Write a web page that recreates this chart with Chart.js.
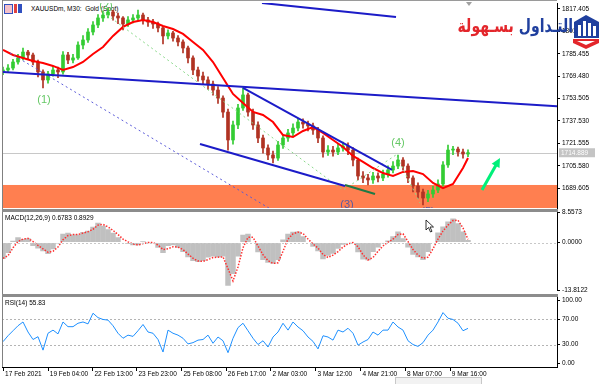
<!DOCTYPE html>
<html>
<head>
<meta charset="utf-8">
<script src="https://cdn.jsdelivr.net/npm/chart.js@4.4.1/dist/chart.umd.min.js"></script>
<style>
body { margin:0; background:#fff; width:600px; height:384px; overflow:hidden; position:relative; font-family:'Liberation Sans', Arial, sans-serif; }
canvas { position:absolute; left:0; z-index:1; }
.txt { position:absolute; font-size:6.5px; line-height:8px; color:#000; white-space:pre; z-index:4; }
.line { position:absolute; background:#8c8c8c; z-index:5; }
</style>
</head>
<body>
<canvas id="price" width="600" height="209" style="top:0"></canvas>
<canvas id="macd" width="600" height="90" style="top:204px"></canvas>
<canvas id="rsi" width="600" height="94" style="top:290px"></canvas>

<div class="line" style="left:2px;top:0;width:555px;height:1px;background:#9a9a9a"></div>
<div class="line" style="left:2px;top:0;width:1px;height:367px;background:#808080"></div>
<div class="line" style="left:2px;top:209px;width:556px;height:3px"></div>
<div class="line" style="left:2px;top:294px;width:556px;height:3px"></div>

<div style="position:absolute;left:4px;top:4px;width:7px;height:8px;border:1px solid #3050c0;background:#f4c0c8;z-index:4"></div>
<div style="position:absolute;left:14px;top:4px;width:8px;height:9px;z-index:4;background:linear-gradient(90deg,#e04040 0 3px,#fff 3px 4px,#3050c0 4px 8px)"></div>
<div class="txt" style="left:31px;top:5px;z-index:0">XAUUSDm, M30:  Gold (Spot)</div>
<div class="txt" style="left:5px;top:214px">MACD(12,26,9) 0.6783 0.8929</div>
<div class="txt" style="left:5px;top:299px">RSI(14) 55.83</div>

<div style="position:absolute;left:466px;top:2px;width:0;height:0;border-left:3px solid transparent;border-right:3px solid transparent;border-top:4px solid #a0a0a0;z-index:4"></div>

<div dir="rtl" style="position:absolute;right:27px;top:15px;font-family:'DejaVu Sans';font-weight:bold;font-size:18px;line-height:22px;white-space:nowrap;z-index:6;transform:scaleX(0.78);transform-origin:right center"><span style="color:#1f3f9e">التـداول</span> <span style="color:#e3262b">بسـهولة</span></div>
<svg style="position:absolute;left:572px;top:12px;z-index:6" width="28" height="38" viewBox="0 0 28 38">
  <path d="M2 10 L14 3 L27 10 L27 26 L2 26 Z" fill="#1f3f9e"/>
  <rect x="6" y="13" width="3" height="11" fill="#fff"/>
  <rect x="11" y="9" width="3" height="15" fill="#fff"/>
  <rect x="16" y="11" width="3" height="13" fill="#fff"/>
  <rect x="21" y="14" width="3" height="10" fill="#fff"/>
  <path d="M1 27 L27 27 L27 31 L14 37 L1 31 Z" fill="#e3262b"/>
  <path d="M5 29 L23 29 L14 33 Z" fill="#fff"/>
</svg>

<svg style="position:absolute;left:425px;top:219px;z-index:6" width="10" height="14" viewBox="0 0 10 14">
  <path d="M1 1 L1 11 L3.5 8.5 L5.5 13 L7 12.3 L5 8 L8.5 8 Z" fill="#fff" stroke="#000" stroke-width="0.8"/>
</svg>
<div style="position:absolute;left:395px;top:377px;width:85px;height:8px;background:#f2f2f2;border:1px solid #c8c8c8;z-index:4"></div>

<script>
// M30 bars sampled along the picture, one value per bar slot
const firstOpen = 1772.5;
const closes = [
  1773.9, 1775.3, 1779.6, 1782.5, 1786.7, 1784.6, 1779.6, 1772.5, 1766.8, 1771.1,
  1773.9, 1772.5, 1784.6, 1781.0, 1782.5, 1791.7, 1795.3, 1801.0, 1806.0, 1811.0,
  1813.1, 1815.3, 1812.4, 1811.0, 1806.7, 1809.6, 1811.0, 1813.1, 1809.6, 1808.1,
  1806.7, 1803.9, 1798.2, 1800.3, 1796.7, 1793.9, 1789.6, 1782.5, 1773.9, 1769.6,
  1766.8, 1763.9, 1759.6, 1753.9, 1743.9, 1724.0, 1734.7, 1746.8, 1756.1, 1743.9,
  1734.7, 1725.4, 1718.3, 1713.3, 1711.1, 1720.4, 1725.4, 1729.0, 1732.5, 1736.8,
  1735.4, 1734.0, 1731.1, 1725.4, 1715.4, 1716.8, 1715.4, 1718.3, 1719.7, 1716.8,
  1709.7, 1698.3, 1696.9, 1695.5, 1698.3, 1696.9, 1699.7, 1702.6, 1705.4, 1709.7,
  1705.4, 1696.9, 1691.2, 1686.9, 1682.6, 1685.5, 1688.3, 1692.6, 1706.2, 1716.8,
  1717.5, 1715.4, 1714.0, 1714.9
];
const highs = [
  1776.0, 1777.8, 1781.5, 1785.0, 1789.5, 1788.0, 1786.0, 1781.0, 1774.0, 1773.0,
  1776.5, 1776.0, 1787.0, 1786.5, 1785.0, 1794.0, 1798.5, 1803.5, 1808.5, 1813.5,
  1816.0, 1818.1, 1816.5, 1814.5, 1812.0, 1812.0, 1813.5, 1816.7, 1814.5, 1811.5,
  1810.0, 1808.0, 1805.0, 1802.5, 1801.5, 1798.5, 1795.5, 1791.0, 1784.0, 1776.0,
  1772.5, 1769.0, 1766.0, 1762.0, 1755.5, 1746.0, 1737.5, 1749.5, 1761.1, 1757.5,
  1746.0, 1737.0, 1727.5, 1720.5, 1716.0, 1723.0, 1728.0, 1731.5, 1735.5, 1739.5,
  1739.0, 1737.5, 1736.0, 1733.0, 1727.0, 1720.0, 1719.5, 1721.5, 1722.5, 1722.0,
  1718.5, 1711.0, 1701.5, 1699.5, 1701.0, 1700.5, 1702.5, 1705.5, 1708.5, 1713.3,
  1711.5, 1707.0, 1698.5, 1693.5, 1689.0, 1688.0, 1691.0, 1695.5, 1708.5, 1720.4,
  1719.5, 1719.0, 1717.5, 1717.0
];
const lows = [
  1770.5, 1772.0, 1774.0, 1778.0, 1781.0, 1782.0, 1777.5, 1769.0, 1761.1, 1764.5,
  1769.5, 1768.5, 1771.0, 1778.5, 1779.0, 1781.5, 1789.0, 1793.5, 1799.0, 1804.0,
  1808.5, 1811.0, 1809.5, 1807.0, 1802.5, 1805.0, 1807.5, 1809.5, 1806.5, 1805.0,
  1803.5, 1801.0, 1792.5, 1796.0, 1794.5, 1791.0, 1786.0, 1779.0, 1770.5, 1766.0,
  1763.5, 1760.0, 1756.0, 1750.0, 1740.0, 1716.8, 1721.0, 1732.0, 1745.0, 1741.0,
  1731.5, 1722.0, 1714.5, 1710.0, 1707.6, 1709.5, 1718.0, 1723.0, 1727.0, 1730.5,
  1732.5, 1730.5, 1728.0, 1722.0, 1711.8, 1713.0, 1712.5, 1713.5, 1716.0, 1713.5,
  1705.5, 1695.5, 1693.5, 1692.0, 1693.0, 1694.0, 1695.0, 1697.5, 1700.5, 1703.5,
  1702.5, 1693.5, 1687.0, 1682.5, 1677.6, 1680.0, 1683.0, 1686.5, 1691.0, 1704.5,
  1713.5, 1712.5, 1711.0, 1712.0
];
// red moving average, read every second bar (last point on the last bar)
const ma = [
  1788.2, 1784.6, 1782.5, 1780.3, 1778.9, 1776.8, 1773.9, 1776.0, 1779.6, 1785.3,
  1790.3, 1798.2, 1804.6, 1808.1, 1809.6, 1808.1, 1805.3, 1803.1, 1799.6, 1793.9,
  1788.2, 1779.6, 1768.2, 1756.8, 1750.4, 1744.0, 1741.8, 1736.8, 1727.5, 1726.1,
  1730.4, 1733.2, 1729.0, 1724.0, 1719.0, 1712.6, 1708.3, 1704.0, 1700.4, 1698.3,
  1701.2, 1701.9, 1699.7, 1693.3, 1689.7, 1692.6, 1704.0, 1711.1
];
const lastPrice = 1714.889;
const priceTicks = [1817.405, 1801.430, 1785.455, 1769.480, 1753.505, 1737.530, 1721.555, 1705.580, 1689.605];
const priceMin = 1675.48, priceMax = 1821.68;

// drawn objects: [bar, price] end points
const trendMain = [[0, 1772.5], [110.8, 1748.1]];
const trendTop = [[51.8, 1821.7], [78.6, 1811.7]];
const channelUpper = [[48, 1761.1], [77.8, 1702.6]];
const channelLower = [[39.4, 1721.1], [68.4, 1691.2]];
const greenSegment = [[68.4, 1691.9], [74.4, 1685.5]];
const dottedBlue = [[1.4, 1786.0], [53.8, 1674.1]];
const waveLine = [[20, 1815.3], [68, 1688.3], [78.6, 1713.3], [83.4, 1679.1]];
const waveLabels = ['(1)', '(2)', '(3)', '(4)', '(5)'];
const waveLabelPos = [[8.2, 1752.5], [20.6, 1819.5], [68.8, 1677.6], [79, 1721.8], [85, 1672.6]];
const zoneLow = 1670, zoneHigh = 1691.9;
const arrowFrom = [95.8, 1688.3], arrowTo = [99.4, 1711.1];

const macd = [
  -4.7, -3.0, 0.5, 1.5, 1.0, 1.2, -1.0, -1.7, -2.5, -3.3,
  -1.9, -0.3, 2.5, 2.8, 2.3, 2.3, 3.0, 3.4, 4.5, 5.7,
  4.8, 3.8, 2.8, 1.5, 0.0, -0.4, -0.8, -0.8, 0.4, 0.1,
  0.0, -1.5, -3.0, -1.0, -0.8, -1.5, -2.7, -4.2, -5.3, -5.6,
  -5.3, -4.3, -4.0, -4.2, -4.0, -12.4, -9.0, -4.0, 2.2, 2.5,
  0.0, -2.8, -5.0, -5.8, -6.1, -5.0, 0.9, 2.5, 3.1, 3.2,
  1.8, 0.0, -1.2, -2.5, -4.8, -3.8, -3.2, -1.8, -0.6, 0.0,
  0.0, -2.8, -4.9, -5.1, -2.7, -1.4, -0.2, 0.6, 1.8, 3.2,
  1.2, -1.4, -3.5, -4.2, -5.0, -2.7, 0.0, 2.9, 4.6, 6.0,
  6.9, 5.5, 3.2, 0.7
];
const signal = [
  -4.5, -3.8, -1.5, 0.3, 1.0, 1.2, 0.3, -0.8, -1.8, -2.8,
  -2.5, -1.3, 0.8, 2.0, 2.3, 2.3, 2.7, 3.1, 3.8, 5.0,
  5.2, 4.5, 3.5, 2.3, 1.0, 0.2, -0.4, -0.7, -0.3, 0.0,
  0.0, -0.7, -2.0, -1.8, -1.2, -1.3, -2.0, -3.3, -4.5, -5.3,
  -5.4, -4.9, -4.3, -4.2, -4.1, -7.5, -11.0, -7.0, -1.5, 1.5,
  1.5, -1.0, -3.5, -5.2, -6.0, -5.8, -2.5, 1.0, 2.5, 3.0,
  2.6, 1.0, -0.4, -1.6, -3.4, -4.3, -3.6, -2.6, -1.3, -0.4,
  0.0, -1.2, -3.5, -5.0, -4.3, -2.5, -1.0, 0.1, 1.0, 2.3,
  2.5, 0.3, -2.0, -3.6, -4.5, -4.2, -1.8, 1.0, 3.3, 5.0,
  6.3, 6.4, 4.2, 0.9
];
const macdTicks = [8.5573, 0, -13.8122];

const rsi = [
  34.5, 44, 52, 60, 66, 50, 38, 42.5, 21, 48,
  53, 47, 66, 58.5, 58.5, 64, 66, 63, 80, 73,
  70, 69, 60, 48, 40, 45, 43, 52, 62, 50,
  48, 38, 18, 53, 48, 45, 40, 31, 33, 37,
  38, 45, 32, 42, 36, 17, 40, 57, 64, 52,
  40, 30, 36, 26, 42, 50, 64, 53, 66, 58,
  52, 42, 35, 23, 44, 42, 37, 53, 50, 56,
  48, 29, 34, 38, 50, 45, 53, 53, 66, 58,
  53, 36, 30, 27, 33, 45, 53, 66, 81, 72,
  70, 64, 52, 55.8
];
const rsiTicks = [100, 70, 30, 0];
const rsiLevels = [70, 30];

const timeLabels = ['17 Feb 2021', '19 Feb 04:00', '22 Feb 13:00', '23 Feb 23:00', '25 Feb 08:00',
  '26 Feb 17:00', '2 Mar 03:00', '3 Mar 12:00', '4 Mar 21:00', '8 Mar 07:00', '9 Mar 16:00'];
const timeTickBars = [0.06, 9, 17.94, 26.74, 35.74, 44.6, 53.54, 62.54, 71.54, 80.46, 89.4];

const xMin = -0.2, xMax = 110.8;

Chart.defaults.font.family = "'Liberation Sans', Arial, sans-serif";
Chart.defaults.font.size = 6.5;
Chart.defaults.color = '#000';

const opens = closes.map((c, i) => i === 0 ? firstOpen : closes[i - 1]);
const candleColors = closes.map((c, i) => c >= opens[i] ? '#33cc33' : '#b03222');

function pts(arr) { return arr.map(p => ({x: p[0], y: p[1]})); }
function seg(arr, color, width, dash) {
  return {type: 'line', data: pts(arr), borderColor: color, borderWidth: width,
    borderDash: dash || [], pointRadius: 0, order: 1};
}

function rightAxis(min, max, ticks, digits) {
  return {
    position: 'right', min: min, max: max, beginAtZero: false,
    afterBuildTicks: s => { s.ticks = ticks.map(v => ({value: v})); },
    afterFit: s => { s.width = 43; s.paddingTop = 0; s.paddingBottom = 0; },
    ticks: {callback: v => v.toFixed(digits), padding: 2, autoSkip: false, color: '#000'},
    grid: {drawOnChartArea: false, tickLength: 3, color: '#000'},
    border: {color: '#000'}
  };
}
function hiddenX() {
  return {type: 'linear', min: xMin, max: xMax, display: false, offset: false, grid: {offset: false}};
}
const base = {
  responsive: false, animation: false, devicePixelRatio: 1,
  plugins: {legend: {display: false}, tooltip: {enabled: false}}
};

function levelPlugin(values, color, onTop) {
  const draw = chart => {
    const {ctx, chartArea: a, scales: {y}} = chart;
    ctx.save();
    ctx.strokeStyle = color;
    ctx.lineWidth = 1;
    ctx.setLineDash([2, 2]);
    values.forEach(v => {
      const py = Math.round(y.getPixelForValue(v)) + 0.5;
      ctx.beginPath(); ctx.moveTo(a.left, py); ctx.lineTo(a.right, py); ctx.stroke();
    });
    ctx.restore();
  };
  return onTop ? {id: 'levels', afterDatasetsDraw: draw} : {id: 'levels', beforeDatasetsDraw: draw};
}

const priceDeco = {
  id: 'priceDeco',
  beforeDatasetsDraw(chart) {
    const {ctx, chartArea: a, scales: {y}} = chart;
    ctx.save();
    const top = y.getPixelForValue(zoneHigh);
    const bot = Math.min(y.getPixelForValue(zoneLow), a.bottom);
    ctx.fillStyle = '#ff7f50';
    ctx.fillRect(a.left + 1, top, a.right - a.left - 1, bot - top);
    const py = Math.round(y.getPixelForValue(lastPrice)) + 0.5;
    ctx.strokeStyle = '#c8c8c8';
    ctx.lineWidth = 1;
    ctx.beginPath(); ctx.moveTo(a.left, py); ctx.lineTo(a.right, py); ctx.stroke();
    ctx.restore();
  },
  afterDatasetsDraw(chart) {
    const {ctx, chartArea: a, scales: {x, y}} = chart;
    ctx.save();
    ctx.beginPath(); ctx.rect(a.left, a.top, a.right - a.left, a.bottom - a.top); ctx.clip();
    // arrow
    const x1 = x.getPixelForValue(arrowFrom[0]), y1 = y.getPixelForValue(arrowFrom[1]);
    const x2 = x.getPixelForValue(arrowTo[0]), y2 = y.getPixelForValue(arrowTo[1]);
    const ang = Math.atan2(y2 - y1, x2 - x1);
    ctx.strokeStyle = '#00f07a'; ctx.fillStyle = '#00f07a'; ctx.lineWidth = 3;
    ctx.beginPath(); ctx.moveTo(x1, y1);
    ctx.lineTo(x2 - 6 * Math.cos(ang), y2 - 6 * Math.sin(ang)); ctx.stroke();
    ctx.beginPath(); ctx.moveTo(x2, y2);
    ctx.lineTo(x2 - 9 * Math.cos(ang) + 4.5 * Math.sin(ang), y2 - 9 * Math.sin(ang) - 4.5 * Math.cos(ang));
    ctx.lineTo(x2 - 9 * Math.cos(ang) - 4.5 * Math.sin(ang), y2 - 9 * Math.sin(ang) + 4.5 * Math.cos(ang));
    ctx.closePath(); ctx.fill();
    // wave labels
    ctx.font = "11px 'Liberation Sans', Arial, sans-serif";
    ctx.textAlign = 'center'; ctx.textBaseline = 'middle';
    waveLabels.forEach((t, i) => {
      ctx.fillStyle = (i === 2 || i === 4) ? '#5a5aa0' : '#66c866';
      ctx.fillText(t, x.getPixelForValue(waveLabelPos[i][0]), y.getPixelForValue(waveLabelPos[i][1]));
    });
    ctx.restore();
  },
  afterDraw(chart) {
    const {ctx, chartArea: a, scales: {y}} = chart;
    const py = y.getPixelForValue(lastPrice);
    ctx.save();
    ctx.fillStyle = '#c4c4c4';
    ctx.fillRect(a.right + 2, py - 4.5, 36, 9);
    ctx.fillStyle = '#fff';
    ctx.font = "6.5px 'Liberation Sans', Arial, sans-serif";
    ctx.textBaseline = 'middle';
    ctx.fillText(lastPrice.toFixed(3), a.right + 4, py + 0.5);
    ctx.restore();
  }
};

new Chart(document.getElementById('price'), {
  type: 'bar',
  data: {datasets: [
    seg(trendMain, '#1c1cc8', 2),
    seg(trendTop, '#1c1cc8', 2),
    seg(channelUpper, '#1c1cc8', 2),
    seg(channelLower, '#1c1cc8', 2),
    seg(greenSegment, '#1f7a45', 2),
    seg(dottedBlue, '#5a5ad8', 1, [2, 3]),
    seg(waveLine, '#8ad88a', 1, [2, 3]),
    {type: 'line', data: ma.map((v, k) => ({x: Math.min(k * 2, closes.length - 1), y: v})),
      borderColor: '#ff0000', borderWidth: 2, pointRadius: 0, order: 2},
    {data: closes.map((c, i) => ({x: i, y: [opens[i], c]})), backgroundColor: candleColors,
      barThickness: 3, grouped: false, order: 3},
    {data: closes.map((c, i) => ({x: i, y: [lows[i], highs[i]]})), backgroundColor: candleColors,
      barThickness: 1, grouped: false, order: 4}
  ]},
  options: Object.assign({}, base, {
    layout: {padding: {top: 3, bottom: 1, left: 2, right: 0}, autoPadding: false},
    scales: {x: hiddenX(), y: rightAxis(priceMin, priceMax, priceTicks, 3)}
  }),
  plugins: [priceDeco]
});

new Chart(document.getElementById('macd'), {
  type: 'bar',
  data: {datasets: [
    {type: 'line', data: signal.map((v, i) => ({x: i, y: v})), borderColor: '#ff3030',
      borderWidth: 1.5, borderDash: [1.5, 1.5], pointRadius: 0, order: 0},
    {data: macd.map((v, i) => ({x: i, y: v})), backgroundColor: '#c0c0c0',
      barPercentage: 1.1, categoryPercentage: 1, grouped: false, order: 1}
  ]},
  options: Object.assign({}, base, {
    layout: {padding: {top: 8.7, bottom: 3.3, left: 2, right: 0}, autoPadding: false},
    scales: {x: hiddenX(), y: rightAxis(-13.8122, 8.5573, macdTicks, 4)}
  }),
  plugins: [levelPlugin([0], '#c8c8c8', true)]
});

new Chart(document.getElementById('rsi'), {
  type: 'line',
  data: {datasets: [
    {data: rsi.map((v, i) => ({x: i, y: v})), borderColor: '#1e90ff', borderWidth: 1, pointRadius: 0}
  ]},
  options: Object.assign({}, base, {
    layout: {padding: {top: 7, bottom: 0, left: 2, right: 0}, autoPadding: false},
    scales: {
      x: {
        type: 'linear', min: xMin, max: xMax, offset: false,
        afterBuildTicks: s => { s.ticks = timeTickBars.map(v => ({value: v})); },
        afterFit: s => { s.height = 17; s.paddingLeft = 0; s.paddingRight = 0; },
        ticks: {callback: (v, i) => ' ' + timeLabels[i], align: 'start', autoSkip: false,
          maxRotation: 0, minRotation: 0, padding: -1, color: '#000'},
        grid: {drawOnChartArea: false, tickLength: 4, color: '#000'},
        border: {color: '#000'}
      },
      y: rightAxis(-5.91, 105.91, rsiTicks, 2)
    }
  }),
  plugins: [levelPlugin(rsiLevels, '#b4b4b4', false)]
});
</script>
</body>
</html>
